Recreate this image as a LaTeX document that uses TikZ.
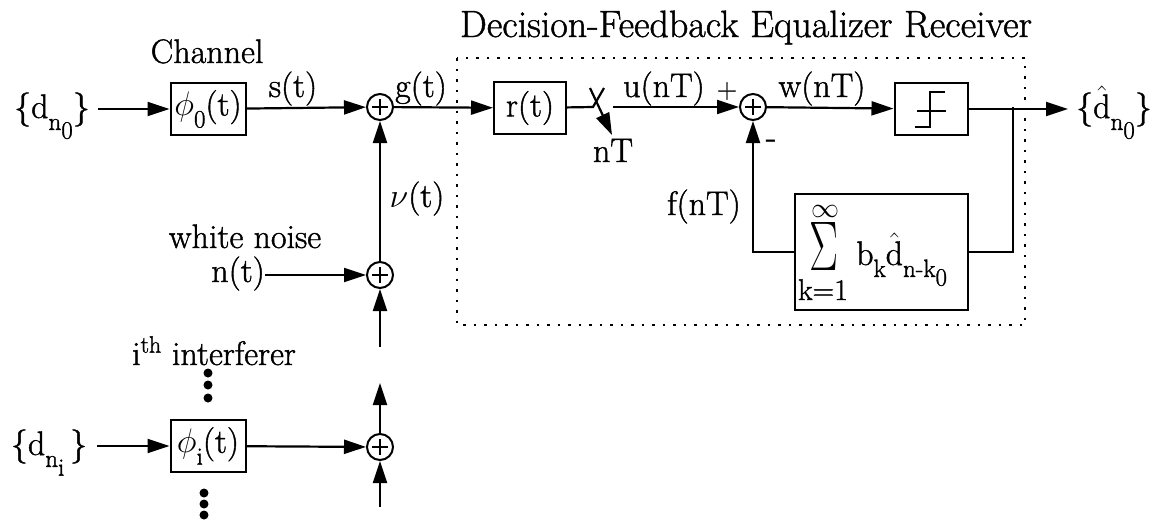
\documentclass[tikz,border=0pt]{standalone}
\usepackage{fix-cm}
\usepackage{graphicx}
\usepackage{fontspec}
\setmainfont{Latin Modern Roman}[UprightFeatures={FakeBold=1.2}]
\usetikzlibrary{arrows.meta, positioning}
\newcommand{\lowsub}[1]{\raisebox{-0.35em}{\fontsize{25}{25}\selectfont #1}}
\newcommand{\dhat}{$\hat{\mathrm{d}}$}

\begin{document}
\begin{tikzpicture}[x=1pt, y=-1pt,
    font=\fontsize{34}{38}\selectfont,
    box/.style={rectangle, draw, line width=2pt, minimum width=75pt, minimum height=52pt, inner sep=1pt},
    adder/.style={circle, draw, line width=2pt, minimum size=26pt, inner sep=0pt,
      path picture={\draw[line width=2.6pt] ([xshift=-8pt]path picture bounding box.center) -- ([xshift=8pt]path picture bounding box.center)
        ([yshift=-8pt]path picture bounding box.center) -- ([yshift=8pt]path picture bounding box.center);}},
    arrow/.style={-{Triangle[length=22pt,width=14pt]}, line width=2.2pt},
    wire/.style={line width=2.2pt},
    lbl/.style={anchor=base, inner sep=0pt},
    frame/.style={line width=2pt, dash pattern=on 2.5pt off 8pt}
  ]
    \useasboundingbox (0,0) rectangle (1160,523);

    % receiver frame
    \draw[frame] (457,58) rectangle (1025,325);
    \node[lbl, font=\fontsize{38}{40}\selectfont] (dfetitle) at (746,37) {Decision-Feedback Equalizer Receiver};

    % desired user
    \node[lbl] (din) at (52,118) {\{d\lowsub{n\lowsub{0}}\}};
    \node[box] (phi0) at (208,109) {$\phi$\lowsub{0}(t)};
    \node[lbl] (chanlbl) at (207,63) {Channel};
    \node[adder] (add1) at (380,107) {};
    \node[box, minimum width=72pt] (rt) at (530,108) {r(t)};
    \coordinate (swin) at (593,107);
    \coordinate (swtop) at (604,88);
    \coordinate (swa) at (590,88);
    \coordinate (swb) at (612,135);
    \coordinate (swout) at (613,107);
    \node[adder] (add2) at (753,107) {};
    \node[box, minimum width=73pt] (slicer) at (931,109) {};
    \coordinate (tap) at (1013,107);
    \node[lbl, anchor=base west] (dout) at (1076,118) {\{\dhat\lowsub{n\lowsub{0}}\}};
    \node[box, minimum width=173pt, minimum height=116pt, inner sep=0pt] (fb) at (881,252) {};

    % feedback sum
    \node (suminf) at (825,211) {\fontsize{28}{28}\selectfont$\infty$};
    \node (sumsym) at (824,246) {\resizebox{29pt}{48pt}{$\Sigma$}};
    \node[lbl] (sumlow) at (823,300) {\fontsize{30}{30}\selectfont k=1};
    \node[lbl, anchor=base west] (sumterm) at (856,265) {b\lowsub{k}\dhat\lowsub{n-k\lowsub{0}}};

    % noise and interferer
    \node[adder] (addn) at (380,275) {};
    \node[lbl, anchor=base east] (noise) at (265,282) {n(t)};
    \node[lbl] (noiselbl) at (245,248) {white noise};
    \coordinate (nin) at (380,347);
    \node[lbl] (intlbl) at (214,365) {i\textsuperscript{th} interferer};
    \node[adder] (addi) at (380,447) {};
    \node[box] (phii) at (208,446) {$\phi$\lowsub{i}(t)};
    \node[lbl] (dini) at (49,455) {\{d\lowsub{n\lowsub{i}}\,\}};
    \coordinate (iout) at (380,383);
    \coordinate (iin) at (380,507);

    % signal labels
    \node[lbl] (slbl) at (293,97) {s(t)};
    \node[lbl] (glbl) at (421,97) {g(t)};
    \node[lbl] (nulbl) at (417,207) {$\nu$(t)};
    \node[lbl] (ulbl) at (664,97) {u(nT)};
    \node[lbl, font=\fontsize{28}{28}\selectfont] (plus) at (727,98) {+};
    \node[lbl] (minus) at (771,148) {-};
    \node[lbl] (wlbl) at (822,97) {w(nT)};
    \node[lbl] (ntlbl) at (613,162) {nT};
    \node[lbl] (flbl) at (704,215) {f(nT)};

    \draw[arrow] (din.east |- phi0) ++(8,0) coordinate (dstart) -- (phi0);
    \draw[arrow] (phi0) -- (add1);
    \draw[arrow] (add1) -- (rt);
    \draw[wire] (rt) -- (swin) -- (swtop);
    \draw[arrow] (swa) -- (swb);
    \draw[arrow] (swout) -- (add2);
    \draw[arrow] (add2) -- (slicer);
    \draw[arrow] (slicer) -- ([xshift=-8pt]dout.west |- slicer);
    \draw[wire] (fb) -| (tap);
    \draw[arrow] (fb) -| (add2);
    \draw[arrow] (addn) -- (add1);
    \draw[arrow] (noise.east |- addn) -- (addn);
    \draw[arrow] (nin) -- (addn);
    \draw[arrow] (dini.east |- phii) ++(10,0) -- (phii);
    \draw[arrow] (phii) -- (addi);
    \draw[arrow] (addi) -- (iout);
    \draw[arrow] (iin) -- (addi);

    % slicer symbol
    \draw[line width=1.6pt] ([shift={(-16,18)}]slicer.center) -- ([shift={(-1,18)}]slicer.center)
      -- ([shift={(-1,-17)}]slicer.center) -- ([shift={(14,-17)}]slicer.center);
    \draw[line width=1.6pt] ([shift={(-14,2)}]slicer.center) -- ([shift={(15,2)}]slicer.center);

    % dots
    \foreach \y in {373,385,398} \fill (208,\y) circle (4.5pt);
    \foreach \y in {493,504,515} \fill (204,\y) circle (4.5pt);
\end{tikzpicture}
\end{document}
